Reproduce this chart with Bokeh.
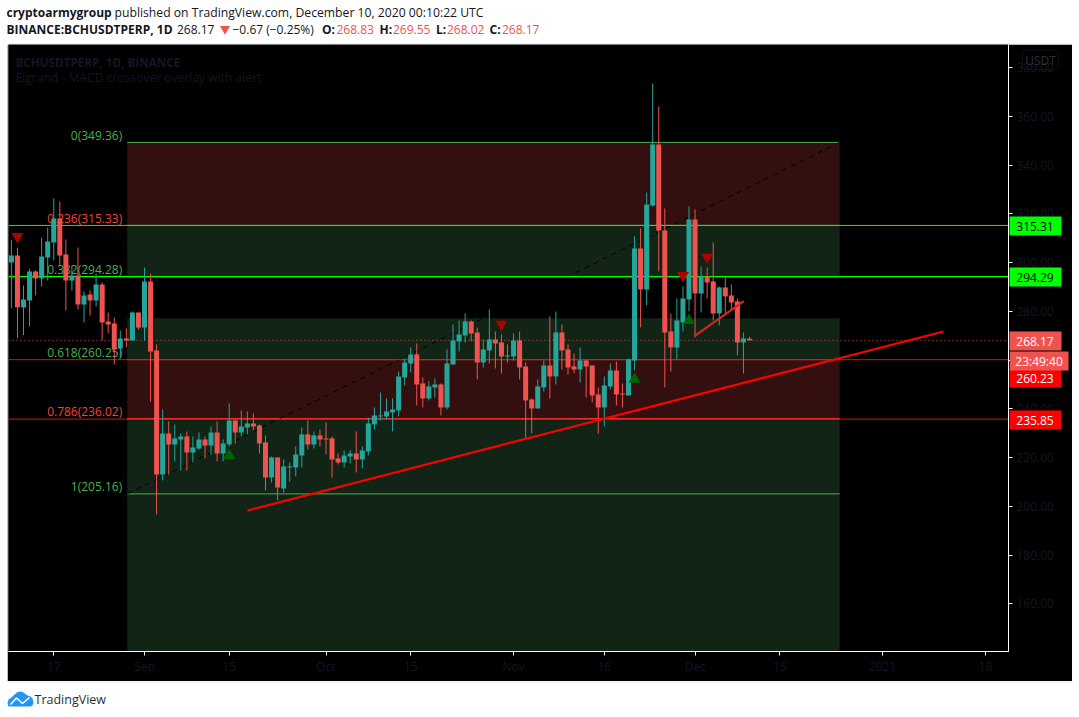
from bokeh.plotting import figure
from bokeh.embed import file_html
from bokeh.resources import INLINE
from bokeh.core.properties import value
from bokeh.layouts import column
from bokeh.models import (BoxAnnotation, Label, FixedTicker, Range1d, NumeralTickFormatter)

# days are counted from 1 Sep 2020 (day 0)
first_day = -22
opens = [300.11,302.99,281.65,284.53,296.42,293.55,302.17,308.32,318.17,303.40,292.73,294.78,282.88,286.99,284.53,291.09,275.91,275.09,264.83,268.94,268.12,279.60,
 273.45,292.32,264.01,213.14,229.96,225.45,227.50,228.73,222.17,223.81,227.50,225.04,230.37,221.76,225.45,235.30,230.37,232.42,234.06,233.24,226.27,
 211.91,220.11,207.39,216.01,216.01,220.93,229.55,225.44,229.14,227.91,227.91,219.70,218.06,220.52,221.75,219.29,222.57,233.65,236.93,236.93,238.57,239.39,252.93,258.67,262.37,250.47,
 244.32,248.83,250.06,240.62,258.26,267.70,270.16,275.90,271.39,259.08,264.01,268.52,267.29,261.55,261.55,268.11,257.44,243.90,240.21,248.83,257.85,253.34,271.39,264.42,257.44,
 256.21,259.90,257.85,245.96,240.62,249.24,255.80,246.37,245.55,259.91,305.86,289.03,323.50,348.52,313.24,271.81,265.24,275.50,284.93,317.75,287.39,294.37,292.32,279.19,
 289.86,286.57,284.11,267.29,268.83]
highs = [309.41,306.13,290.68,297.52,296.83,310.37,314.47,326.37,325.14,309.55,298.75,306.27,288.22,288.63,295.60,291.91,279.60,277.55,272.22,273.04,280.01,279.60,
 298.06,295.60,266.47,239.81,234.88,233.65,229.96,230.78,228.73,230.37,228.73,232.83,234.88,227.50,242.27,235.71,239.40,238.99,238.17,233.65,229.14,
 220.52,220.11,219.29,218.06,224.62,232.42,235.29,230.78,231.60,234.47,228.73,221.75,222.98,222.98,230.78,224.62,236.52,240.62,246.78,244.32,244.32,255.39,260.73,265.24,266.88,252.93,
 251.29,252.52,250.47,264.42,274.67,276.32,279.19,276.32,273.44,268.52,280.83,271.80,270.57,266.47,270.98,271.80,259.08,244.32,252.11,259.90,277.96,280.01,274.67,266.47,262.78,
 265.24,260.32,257.85,248.83,253.34,258.67,259.49,250.47,260.73,310.78,314.06,328.83,373.55,364.11,322.27,279.19,285.34,290.27,323.09,321.86,298.47,298.06,308.32,290.27,
 293.96,291.09,285.34,271.39,269.55]
lows = [281.38,269.07,270.30,273.86,286.58,290.27,292.73,300.93,298.47,280.42,288.63,280.83,275.50,278.37,282.06,268.12,270.99,258.27,261.28,265.38,268.12,272.63,
 268.12,243.09,196.73,210.68,213.14,218.48,214.78,214.78,218.06,223.26,219.71,221.34,218.48,218.48,224.63,225.86,228.73,229.55,231.19,221.76,206.58,
 209.85,202.47,205.75,210.26,212.32,216.01,223.39,223.80,224.62,221.34,211.91,217.24,216.01,217.65,213.96,215.60,220.93,231.60,235.29,235.70,230.78,236.93,249.65,254.98,241.44,240.62,
 243.50,244.73,237.34,239.80,258.26,263.60,267.29,267.70,252.11,257.03,258.67,256.62,254.57,259.08,259.90,252.11,227.50,229.96,240.21,247.19,244.32,250.06,256.21,254.16,254.57,
 250.88,244.73,242.67,229.96,232.83,248.01,241.44,240.62,245.55,255.81,273.45,282.47,323.09,296.42,248.83,255.39,260.32,271.81,280.01,269.34,279.60,285.34,276.32,274.27,
 279.19,280.83,261.96,254.57,268.02]
closes = [302.99,281.79,284.93,296.42,293.55,302.58,308.73,318.17,302.99,292.73,294.78,282.88,286.58,284.53,291.09,275.50,274.68,264.42,268.94,268.12,279.60,273.45,
 292.32,263.60,213.14,229.96,225.45,227.91,228.73,222.17,224.22,227.50,225.04,230.37,221.76,225.86,235.30,230.37,232.83,234.06,232.83,225.86,211.91,
 220.11,207.80,216.42,216.42,221.34,229.55,225.44,229.14,227.49,227.49,219.29,218.06,220.93,221.75,219.29,222.98,234.06,237.34,237.34,238.98,239.80,253.34,259.08,262.37,250.06,244.32,
 249.24,250.06,240.62,258.67,268.11,270.57,275.90,270.98,259.08,264.42,268.52,266.88,261.55,261.96,268.11,257.03,243.50,240.21,249.24,257.85,253.34,271.39,264.01,257.03,256.21,
 259.90,257.44,245.55,240.62,249.65,255.80,245.96,245.96,260.32,305.86,289.03,323.91,348.52,313.24,271.39,265.24,276.32,285.34,317.75,287.39,294.37,291.91,279.19,289.86,
 286.17,283.70,267.29,268.93,268.17]

fib_prices = [349.36,315.33,294.28,277.26,260.25,236.02,205.16,116.05]
fib_fills = ["#33100f","#112416","#000000","#112416","#33100f","#112416","#112416"]
fib_names = ["0(349.36)","0.236(315.33)","0.382(294.28)","0.618(260.25)","0.786(236.02)","1(205.16)"]
fib_label_prices = [349.36,315.33,294.28,260.25,236.02,205.16]
fib_label_colors = ["#4caf50","#f44336","#4caf50","#4caf50","#f44336","#4caf50"]
fib_start, fib_end = -2.85, 114.9

down_days = [-21,59,93,89]
down_prices = [310.8,274.8,302.3,294.8]
up_days = [14,81,90]
up_prices = [220.9,252.2,276.3]

tick_days = [-15,0,14,30,44,61,76,91,105,122,139]
tick_labels = ["17","Sep","15","Oct","15","Nov","16","Dec","15","2021","18"]
price_ticks = [160,180,200,220,240,260,280,300,320,340,360,380]

tag_texts = ["315.31","294.29","268.17","260.23","235.85"]
tag_fills = ["#00ff00","#00ff00","#ef5350","#ff0000","#ff0000"]
tag_inks = ["#000000","#000000","#ffffff","#ffffff","#ffffff"]

UP, DOWN = "#26a69a", "#ef5350"
FONT = "Open Sans"
DIM = "#131722"
XMIN, XMAX, YMIN, YMAX = -22.48, 142.81, 140.5, 389.54

def strip(height, y0, y1):
    s = figure(frame_width=1079, frame_height=height, output_backend="svg", toolbar_location=None, x_range=Range1d(0,1079), y_range=Range1d(y1,y0),
               x_axis_location=None, y_axis_location=None, min_border=0, outline_line_color=None,
               background_fill_color="#ffffff", border_fill_color="#ffffff")
    s.grid.visible = False
    return s

h = strip(44, 0, 44)
f = strip(36, 681, 717)

p = figure(width=1065, height=637, output_backend="svg", toolbar_location=None,
           x_range=Range1d(XMIN,XMAX), y_range=Range1d(YMIN,YMAX),
           y_axis_location="right", x_axis_location="below",
           min_border_left=1, min_border_right=64, min_border_top=0, min_border_bottom=30,
           background_fill_color="#000000", border_fill_color="#000000", outline_line_color=None,
           margin=(0,0,0,7))
p.grid.visible = False

# transparent sheet over the price axis that carries the price tags
t = figure(frame_width=64, frame_height=637, output_backend="svg", toolbar_location=None,
           x_range=Range1d(0,64), y_range=Range1d(637,0), x_axis_location=None, y_axis_location=None,
           min_border=0, outline_line_color=None, background_fill_color=None, border_fill_color=None,
           margin=(-637,0,0,1008))
t.grid.visible = False

for ax,ticks,fmt in ((p.xaxis[0],tick_days,dict(zip(tick_days,tick_labels))),(p.yaxis[0],price_ticks,None)):
    ax.ticker = FixedTicker(ticks=ticks)
    ax.axis_line_color="#ffffff"
    ax.major_tick_line_color="#ffffff"
    ax.minor_tick_line_color=None
    ax.major_tick_in=0
    ax.major_tick_out=4
    ax.major_label_text_color=DIM
    ax.major_label_text_font=FONT
    ax.major_label_text_font_size="12px"
    if fmt: ax.major_label_overrides=fmt
p.yaxis[0].formatter=NumeralTickFormatter(format="0.00")
p.yaxis[0].major_label_standoff=4
p.xaxis[0].major_label_standoff=2

# fib zones
p.quad(left=fib_start,right=fib_end,top=fib_prices[:-1],bottom=fib_prices[1:],fill_color=fib_fills,line_color=None)
for lv,col,w in ((349.36,"#4caf50",1),(315.33,"#4caf50",1),(294.28,"#4caf50",1),(260.25,"#f44336",1),(236.02,"#f44336",1.5),(205.16,"#4caf50",1)):
    p.line([fib_start,fib_end],[lv,lv],line_color=col,line_width=w)
p.text(x=[fib_start]*6,y=fib_label_prices,text=fib_names,text_color=fib_label_colors,text_align="right",text_baseline="middle",
       x_offset=-5,y_offset=-7,text_font=value(FONT),text_font_size="12px")
p.line([fib_start,fib_end],[205.16,349.36],line_color="#000000",line_width=1,line_dash="5 5")

# horizontal price lines
for lv,col,w in ((315.31,"#00ff00",1),(294.29,"#00ff00",1.2),(260.23,"#e01010",1),(235.85,"#e01010",1)):
    p.line([XMIN,XMAX],[lv,lv],line_color=col,line_width=w)
p.line([XMIN,XMAX],[268.17,268.17],line_color=DOWN,line_width=1,line_dash="1 3")

# candles
days = [first_day+i for i in range(len(opens))]
cols = [UP if c>=o else DOWN for o,c in zip(opens,closes)]
p.segment(days,lows,days,highs,line_color=cols,line_width=1)
p.vbar(x=days,width=0.83,top=[max(o,c) for o,c in zip(opens,closes)],bottom=[min(o,c) for o,c in zip(opens,closes)],
       fill_color=cols,line_color=None)

# MACD markers
p.scatter(down_days,down_prices,marker="inverted_triangle",size=12,fill_color="#b00000",line_color=None)
p.scatter(up_days,up_prices,marker="triangle",size=12,fill_color="#006400",line_color=None)

# drawn trend lines
p.line([17.02,132.07],[198.36,271.8],line_color="#ff0000",line_width=2.2)
p.line([90.9,99.06],[269.87,284.24],line_color="#d8261c",line_width=2.2)

def lab(fig,x,y,txt,color="#131722",bold=False,size="12px",align="left",dx=0,dy=0):
    fig.add_layout(Label(x=x-dx,y=y-dy,x_units="canvas",y_units="canvas",text=txt,text_color=color,text_font=FONT,
        text_font_size=size,text_font_style="bold" if bold else "normal",text_align=align,text_baseline="middle"))

def box(fig,l,r,top,bot,dx,dy,**kw):
    fig.add_layout(BoxAnnotation(left=l-dx,right=r-dx,top=top-dy,bottom=bot-dy,left_units="canvas",right_units="canvas",
        top_units="canvas",bottom_units="canvas",**kw))

MX, MY = 7, 44
TX, TY = 1008, 44
# watermark
lab(p,15,61,"BCHUSDTPERP, 1D, BINANCE",DIM,True,"11.7px",dx=MX,dy=MY)
lab(p,15,77,"Elgrand - MACD crossover overlay with alert",DIM,False,"12.1px",dx=MX,dy=MY)

# USDT badge
box(t,1022,1058,50,69,TX,TY,fill_alpha=0,line_color="#2a2e39",line_width=1,border_radius=4)
lab(t,1040,59.5,"USDT","#2a2e39",False,"12px","center",dx=TX,dy=TY)

# price tags
tag_boxes = [(216,235),(267,286),(331,350),(369,387),(410,429)]
for txt,(top,bot),bg,fg in zip(tag_texts,tag_boxes,tag_fills,tag_inks):
    box(t,1008,1061,top,bot,TX,TY,fill_color=bg,fill_alpha=1,line_color=None)
    lab(t,1034.5,(top+bot)/2,txt,fg,False,"12px","center",dx=TX,dy=TY)
box(t,1009,1068,351,370,TX,TY,fill_color=DOWN,fill_alpha=1,line_color=None)
lab(t,1038.5,360.5,"23:49:40","#ffffff",False,"12px","center",dx=TX,dy=TY)

# header
lab(h,6,12,"cryptoarmygroup",bold=True)
lab(h,114,12,"published on TradingView.com, December 10, 2020 00:10:22 UTC",size="12.2px")
lab(h,6,29,"BINANCE:BCHUSDTPERP, 1D",bold=True)
lab(h,176.5,29,"268.17")
h.scatter([223.5],[28.5],marker="inverted_triangle",size=10,fill_color=DOWN,line_color=None)
lab(h,232,29,"\u22120.67 (\u22120.25%)")
for xa,a,xb,b in ((321.5,"O:",336,"268.83"),(379,"H:",392.5,"269.55"),(435.5,"L:",446.5,"268.02"),(489,"C:",501.5,"268.17")):
    lab(h,xa,29,a,bold=True)
    lab(h,xb,29,b,DOWN)
h.line([7,1072],[43.5,43.5],line_color="#e0e3eb",line_width=1)

# footer logo
f.patch([6,7,10,13,16,19,22,26,29,31,32,31,29,7],[703,699,697,694,691.5,691,692,695,696,698,702,705,706,706],fill_color="#2196f3",line_color=None)
f.line([9,15,21,28],[704,697.5,703,697],line_color="#ffffff",line_width=1.6)
f.line([7,1072],[681.5,681.5],line_color="#e0e3eb",line_width=1)
lab(f,34,698.5-681,"TradingView","#2a2e39",False,"12.5px")

page = column(h,p,t,f,spacing=0)
open("out.html","w").write(file_html(page,INLINE))
